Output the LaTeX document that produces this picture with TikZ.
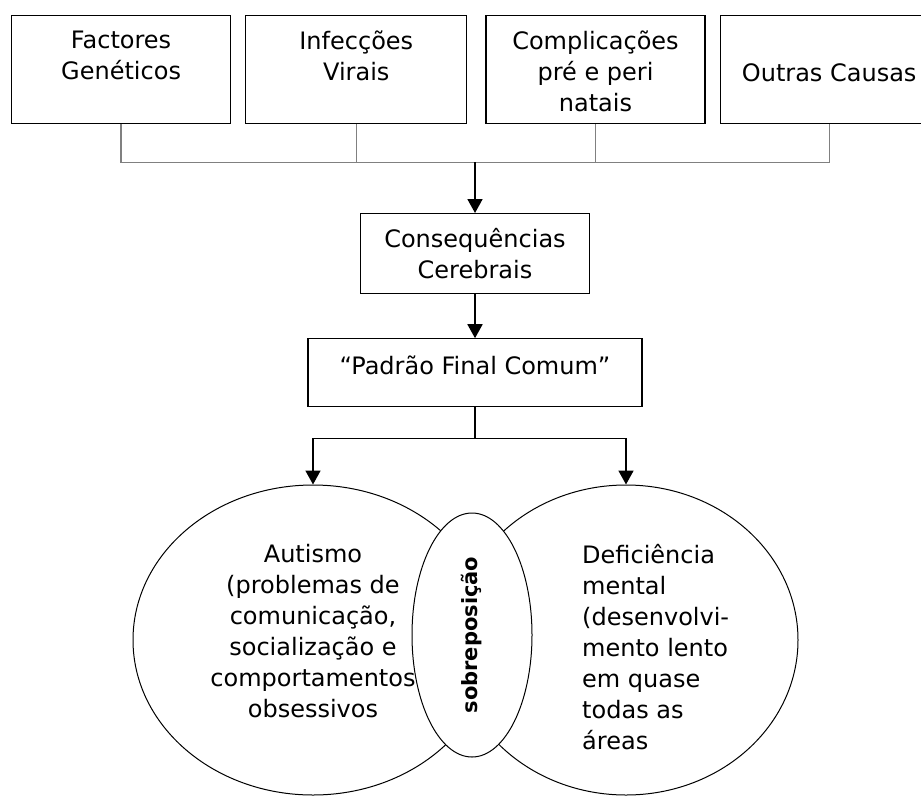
\documentclass[tikz,border=0pt]{standalone}
\usepackage{fontspec}
\setmainfont{DejaVu Sans}
\usepackage{tikz}
\usetikzlibrary{positioning}
\usetikzlibrary{arrows.meta, positioning, shapes.geometric}

\begin{document}
\begin{tikzpicture}[
			x=1pt, y=-1pt,
			font=\fontsize{24}{31}\selectfont,
			caixa/.style={
				draw,
				rectangle,
				line width=1.2pt,
				minimum height=108pt,
				inner sep=0pt,
				anchor=north west
			},
			txt/.style={inner sep=0pt, align=center},
			elipse/.style={
				draw,
				ellipse,
				line width=1pt,
				minimum width=360pt,
				minimum height=310pt,
				inner sep=0pt
			},
			liga/.style={draw=gray, line width=1.3pt},
			linha/.style={line width=1.8pt},
			seta/.style={-{Triangle[width=15pt, length=14pt]}, line width=1.8pt}
			]
			
			\useasboundingbox (0,0) rectangle (921,796);
			\clip (0,0) rectangle (921,796);
			
			% -------------------------------
			% CAUSAS
			% -------------------------------
			\node[caixa, minimum width=219pt] (gen) at (11,15) {};
			\node[caixa, minimum width=221pt, right=14pt of gen] (vir) {};
			\node[caixa, minimum width=219pt, right=18pt of vir] (comp) {};
			\node[caixa, minimum width=218pt, right=14pt of comp] (out) {};
			
			\node[txt, below=16pt of gen.north] {Factores\\Genéticos};
			\node[txt, below=16pt of vir.north] {Infecções\\Virais};
			\node[txt, below=16pt of comp.north] {Complicações\\pré e peri\\natais};
			\node[txt, below=48pt of out.north] {Outras Causas};
			
			\draw[liga] (gen.south) -- ++(0,38) coordinate (bus) -| (out.south);
			\draw[liga] (vir.south) -- (vir.south |- bus);
			\draw[liga] (comp.south) -- (comp.south |- bus);
			
			% -------------------------------
			% CONSEQUENCIAS
			% -------------------------------
			\node[caixa, minimum width=229pt, minimum height=80pt, anchor=north] (cons) at (475,213) {};
			\node[txt, below=15pt of cons.north] {Consequências\\Cerebrais};
			
			\node[caixa, minimum width=334pt, minimum height=68pt, below=44pt of cons] (padrao) {};
			\node[txt, below=17pt of padrao.north] {“Padrão Final Comum”};
			
			\draw[seta] (cons.north |- bus) -- (cons.north);
			\draw[seta] (cons.south) -- (padrao.north);
			
			% -------------------------------
			% QUADROS FINAIS
			% -------------------------------
			\node[elipse] (autismo) at (313,640) {};
			\node[elipse, minimum width=344pt] (defic) at (626,640) {};
			
			\draw[linha] (padrao.south) -- ++(0,31) coordinate (ramo);
			\draw[seta] (ramo) -| (autismo.north);
			\draw[seta] (ramo) -| (defic.north);
			
			\node[elipse, fill=white, rotate=90, minimum width=244pt, minimum height=120pt,
				font=\fontsize{21}{25}\selectfont\bfseries] (sobre) at (472,635) {sobreposição};
			
			\node[txt] at (313,631) {Autismo\\(problemas de\\comunicação,\\socialização e\\comportamentos\\obsessivos};
			\node[txt, align=left, anchor=north west] at (582,544) {Deficiência\\mental\\(desenvolvi-\\mento lento\\em quase\\todas as\\áreas};
			
		\end{tikzpicture}
\end{document}
